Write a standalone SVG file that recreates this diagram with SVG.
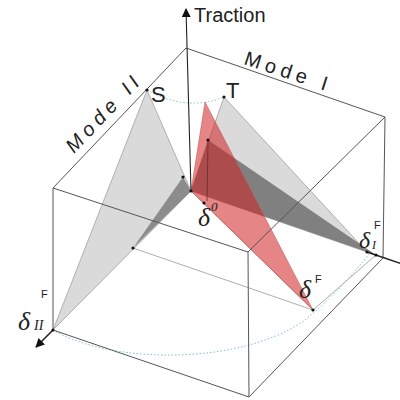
<svg xmlns="http://www.w3.org/2000/svg" width="400" height="400" viewBox="0 0 400 400">
<defs>
<style>
.edge{stroke:#555;stroke-width:1;fill:none}
.thin{stroke:#999;stroke-width:0.8;fill:none}
.tri{stroke:#888;stroke-width:0.6}
.arc{stroke:#7cc4c8;stroke-width:1;stroke-dasharray:1.5 2;fill:none}
.dot{fill:#111}
.sans{font-family:"Liberation Sans",Arial,sans-serif;fill:#222}
.ser{font-family:"Liberation Serif","Times New Roman",serif;font-style:italic;fill:#222}
</style>
<marker id="ah" viewBox="0 0 10 10" refX="9" refY="5" markerWidth="9" markerHeight="9" markerUnits="userSpaceOnUse" orient="auto">
<path d="M0,0 L10,5 L0,10 z" fill="#111"/>
</marker>
</defs>
<rect width="400" height="400" fill="#fff"/>

<g id="connectors">
<path class="arc" d="M147,90 Q186,112 224,97"/>
<path class="arc" d="M53,330 C110,364 240,366 305,320 C330,300 355,272 370,253"/>
<line class="thin" x1="133" y1="248" x2="313" y2="310"/>
<line class="thin" x1="313" y1="310" x2="376" y2="255"/>
<line class="thin" x1="191" y1="191" x2="313" y2="310"/>
</g>

<g id="mode2-triangle">
<polygon class="tri" points="147,90 53,330 191,191" fill="#dadada"/>
<polygon points="183,177 191,191 133,248" fill="#8c8c8c"/>
</g>

<g id="mode1-triangle">
<polygon class="tri" points="224,97 191,191 367,252" fill="#dadada"/>
<polygon points="208,140 191,191 376,255" fill="#808080"/>
</g>

<g id="mixed-triangle">
<polygon points="205,102 191,191 313,310" fill="#d02020" fill-opacity="0.55" stroke="#c05050" stroke-width="0.5"/>
<line x1="208" y1="140" x2="207" y2="201" stroke="#6a2a2a" stroke-width="0.8"/>
</g>

<g id="cube">
<line class="edge" x1="186" y1="48" x2="385" y2="117"/>
<line class="edge" x1="186" y1="48" x2="53" y2="188"/>
<line class="edge" x1="53" y1="188" x2="248" y2="252"/>
<line class="edge" x1="248" y1="252" x2="385" y2="117"/>
<line class="edge" x1="53" y1="188" x2="53" y2="330"/>
<line class="edge" x1="248" y1="252" x2="249" y2="397"/>
<line class="edge" x1="385" y1="117" x2="383" y2="258"/>
<line class="edge" x1="53" y1="330" x2="249" y2="397"/>
<line class="edge" x1="249" y1="397" x2="383" y2="258"/>
</g>

<g id="axes">
<line x1="191" y1="191" x2="186" y2="9" stroke="#222" stroke-width="1.1" marker-end="url(#ah)"/>
<line x1="53" y1="330" x2="36" y2="347" stroke="#222" stroke-width="1.6" marker-end="url(#ah)"/>
<line x1="367" y1="252" x2="402" y2="264" stroke="#222" stroke-width="1.4"/>
</g>

<g id="points">
<circle class="dot" cx="147" cy="90" r="1.6"/>
<circle class="dot" cx="224" cy="97" r="1.6"/>
<circle class="dot" cx="183" cy="177" r="1.6"/>
<circle class="dot" cx="208" cy="140" r="1.6"/>
<circle class="dot" cx="191" cy="191" r="1.6"/>
<circle class="dot" cx="204" cy="203" r="1.6"/>
<circle class="dot" cx="133" cy="248" r="1.6"/>
<circle class="dot" cx="313" cy="310" r="1.6"/>
<circle class="dot" cx="367" cy="252" r="1.6"/>
<circle class="dot" cx="376" cy="255" r="1.6"/>
<circle class="dot" cx="53" cy="330" r="1.6"/>
</g>

<g id="labels">
<text class="sans" x="194" y="22" font-size="20">Traction</text>
<text class="sans" x="0" y="0" font-size="20" letter-spacing="5" transform="translate(243,64) rotate(18)">Mode I</text>
<text class="sans" x="0" y="0" font-size="20" letter-spacing="5" font-style="italic" transform="translate(74,154) rotate(-46.5)">Mode II</text>
<text class="sans" x="151" y="102" font-size="22">S</text>
<text class="sans" x="226" y="98" font-size="22">T</text>
<text class="ser" x="198" y="226" font-size="26">δ</text>
<text class="ser" x="211" y="211" font-size="13">0</text>
<text class="ser" x="299" y="298" font-size="26">δ</text>
<text class="sans" x="315" y="283" font-size="11">F</text>
<text class="ser" x="359" y="248" font-size="24">δ</text>
<text class="ser" x="372" y="249" font-size="12">I</text>
<text class="sans" x="374" y="229" font-size="11">F</text>
<text class="ser" x="18" y="330" font-size="26">δ</text>
<text class="ser" x="34" y="330" font-size="14">II</text>
<text class="sans" x="41" y="298" font-size="11">F</text>
</g>
</svg>
